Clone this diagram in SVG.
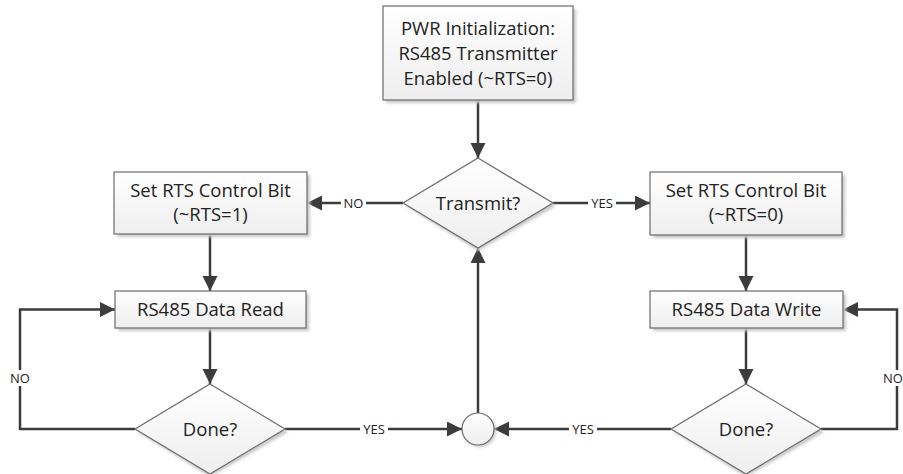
<svg xmlns="http://www.w3.org/2000/svg" width="903" height="474" viewBox="0 0 903 474">
<defs>
  <linearGradient id="g" x1="0" y1="0" x2="0" y2="1">
    <stop offset="0" stop-color="#ffffff"/>
    <stop offset="1" stop-color="#eeeeee"/>
  </linearGradient>
  <filter id="sh" x="-10%" y="-10%" width="130%" height="140%">
    <feGaussianBlur stdDeviation="1.5"/>
  </filter>
  <marker id="ah" markerUnits="userSpaceOnUse" markerWidth="16" markerHeight="16" refX="15" refY="7.5" orient="auto">
    <path d="M0,0 L15,7.5 L0,15 z" fill="#3c3c3c"/>
  </marker>
  <style>
    .box{fill:url(#g);stroke:#6a6a6a;stroke-width:1.2}
    .shadow{fill:#c8c8c8;filter:url(#sh)}
    .t{font-family:"Open Sans","Noto Sans",sans-serif;font-size:18.5px;fill:#222222;text-anchor:middle}
    .c{fill:none;stroke:#3c3c3c;stroke-width:2.5}
    .ca{fill:none;stroke:#3c3c3c;stroke-width:2.5;marker-end:url(#ah)}
    .lbl{font-family:"Open Sans","Noto Sans",sans-serif;font-size:13px;fill:#222222;text-anchor:middle}
    .lb{fill:#ffffff}
  </style>
</defs>
<rect width="903" height="474" fill="#ffffff"/>

<g id="connectors">
  <path class="ca" d="M478,100 L478,158"/>
  <path class="ca" d="M403,203 L307,203"/>
  <path class="ca" d="M553,203 L650,203"/>
  <path class="ca" d="M210,234 L210,291"/>
  <path class="ca" d="M746,235 L746,291"/>
  <path class="ca" d="M210,328 L210,384"/>
  <path class="ca" d="M746,328 L746,384"/>
  <path class="ca" d="M135,429 L20,429 L20,309.5 L115,309.5"/>
  <path class="ca" d="M821,429 L897,429 L897,309.5 L843,309.5"/>
  <path class="ca" d="M285,429 L462,429"/>
  <path class="ca" d="M671,429 L494,429"/>
  <path class="ca" d="M478,413 L478,248"/>
  <rect class="lb" x="341" y="195" width="25" height="16"/>
  <text class="lbl" x="353.5" y="207.5">NO</text>
  <rect class="lb" x="588" y="195" width="28" height="16"/>
  <text class="lbl" x="602" y="207.5">YES</text>
  <rect class="lb" x="8" y="370" width="24" height="16"/>
  <text class="lbl" x="20" y="382.5">NO</text>
  <rect class="lb" x="882" y="370" width="21" height="16"/>
  <text class="lbl" x="893" y="382.5">NO</text>
  <rect class="lb" x="360" y="421" width="28" height="16"/>
  <text class="lbl" x="374" y="433.5">YES</text>
  <rect class="lb" x="569" y="421" width="28" height="16"/>
  <text class="lbl" x="583" y="433.5">YES</text>
</g>

<g id="pwr-init">
  <rect class="shadow" x="386" y="9" width="190" height="94"/>
  <rect class="box" x="383" y="6" width="190" height="94"/>
  <text class="t" x="478" y="35">PWR Initialization:</text>
  <text class="t" x="478" y="60">RS485 Transmitter</text>
  <text class="t" x="478" y="85">Enabled (~RTS=0)</text>
</g>

<g id="transmit">
  <path class="shadow" d="M478,161 L556,206 L478,251 L406,206 z"/>
  <path class="box" d="M478,158 L553,203 L478,248 L403,203 z"/>
  <text class="t" x="478" y="209.5">Transmit?</text>
</g>

<g id="set-rts-1">
  <rect class="shadow" x="117" y="175" width="193" height="62"/>
  <rect class="box" x="114" y="172" width="193" height="62"/>
  <text class="t" x="210.5" y="197">Set RTS Control Bit</text>
  <text class="t" x="210.5" y="221">(~RTS=1)</text>
</g>

<g id="set-rts-0">
  <rect class="shadow" x="653" y="175" width="192" height="63"/>
  <rect class="box" x="650" y="172" width="192" height="63"/>
  <text class="t" x="746" y="197">Set RTS Control Bit</text>
  <text class="t" x="746" y="221">(~RTS=0)</text>
</g>

<g id="data-read">
  <rect class="shadow" x="118" y="294" width="191" height="37"/>
  <rect class="box" x="115" y="291" width="191" height="37"/>
  <text class="t" x="210.5" y="316">RS485 Data Read</text>
</g>

<g id="data-write">
  <rect class="shadow" x="653" y="294" width="193" height="37"/>
  <rect class="box" x="650" y="291" width="193" height="37"/>
  <text class="t" x="746.5" y="316">RS485 Data Write</text>
</g>

<g id="done-read">
  <path class="shadow" d="M210,387 L288,432 L210,477 L138,432 z"/>
  <path class="box" d="M210,384 L285,429 L210,474 L135,429 z"/>
  <text class="t" x="210" y="435.5">Done?</text>
</g>

<g id="done-write">
  <path class="shadow" d="M746,387 L824,432 L746,477 L674,432 z"/>
  <path class="box" d="M746,384 L821,429 L746,474 L671,429 z"/>
  <text class="t" x="746" y="435.5">Done?</text>
</g>

<g id="merge">
  <circle class="shadow" cx="480" cy="431" r="16"/>
  <circle class="box" cx="478" cy="429" r="16"/>
</g>
</svg>
